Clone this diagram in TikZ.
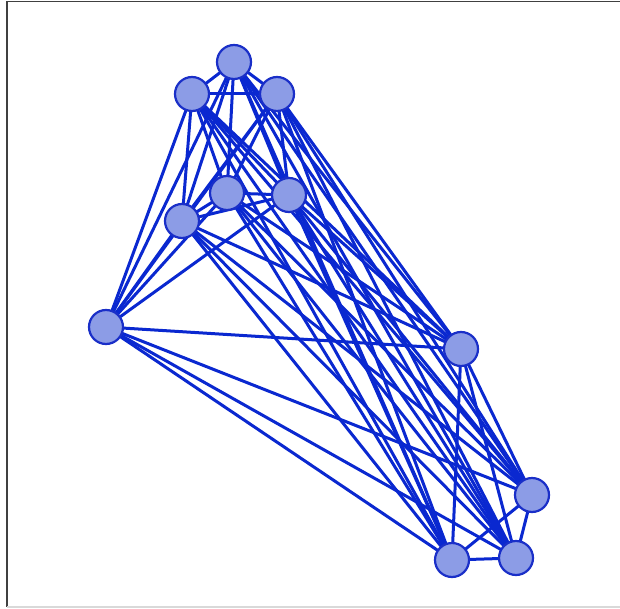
\documentclass[tikz,border=0pt]{standalone}
\begin{document}
\begin{tikzpicture}[x=1pt,y=-1pt,
  vert/.style={circle,draw=vborder,fill=vfill,line width=2.2pt,minimum size=34pt,inner sep=0pt},
  edge/.style={draw=ecol,line width=3pt}]
\definecolor{vborder}{HTML}{1A2FC8}
\definecolor{vfill}{HTML}{8C9CE6}
\definecolor{ecol}{HTML}{0A28D0}
\useasboundingbox (0,0) rectangle (620,609);
\fill[white] (0,0) rectangle (620,609);
\draw[line width=1.5pt,black!75] (7,607) -- (7,1.5) -- (620,1.5);
\draw[line width=1.5pt,black!15] (7,607) -- (620,607);
\coordinate (pA) at (234,62);
\coordinate (pB) at (192,94);
\coordinate (pC) at (277,94);
\coordinate (pD) at (227,193);
\coordinate (pE) at (289,195);
\coordinate (pF) at (182,221);
\coordinate (pG) at (106,327);
\coordinate (pH) at (461,349);
\coordinate (pI) at (532,495);
\coordinate (pJ) at (452,560);
\coordinate (pK) at (516,558);
\foreach \a/\b in {A/B,A/C,A/D,A/E,A/F,A/G,A/H,A/I,A/J,A/K,
  B/C,B/D,B/E,B/F,B/G,B/H,B/I,B/J,B/K,
  C/D,C/E,C/F,C/G,C/H,C/I,C/J,C/K,
  D/E,D/F,D/G,D/H,D/I,D/J,D/K,
  E/F,E/G,E/H,E/I,E/J,E/K,
  F/G,F/H,F/I,F/J,F/K,
  G/H,G/I,G/J,G/K,
  H/I,H/J,H/K,I/J,I/K,J/K}
  \draw[edge] (p\a) -- (p\b);
\foreach \n in {A,B,C,D,E,F,G,H,I,J,K}
  \node[vert] (\n) at (p\n) {};
\end{tikzpicture}
\end{document}
